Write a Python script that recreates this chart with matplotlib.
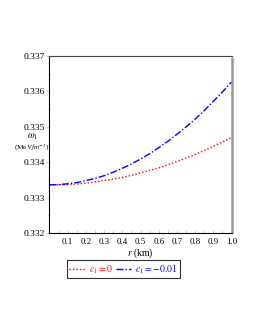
import matplotlib
matplotlib.use("Agg")
import matplotlib.pyplot as plt
from matplotlib.ticker import MultipleLocator

r_km = [0.0, 0.05, 0.1, 0.15, 0.2, 0.25, 0.3, 0.35, 0.4, 0.45, 0.5,
        0.55, 0.6, 0.65, 0.7, 0.75, 0.8, 0.85, 0.9, 0.95, 1.0]
omega_c0 = [0.33336, 0.333363, 0.33337, 0.333383, 0.33341, 0.333444, 0.33348,
            0.333524, 0.33357, 0.33363, 0.33370, 0.333766, 0.33384, 0.333926,
            0.33402, 0.334114, 0.33422, 0.33433, 0.33445, 0.334573, 0.33470]
omega_c1 = [0.33336, 0.333367, 0.33339, 0.333425, 0.33348, 0.333542, 0.33362,
            0.333716, 0.33383, 0.333949, 0.33409, 0.33424, 0.33441, 0.33459,
            0.33479, 0.334997, 0.33522, 0.33546, 0.33572, 0.335987, 0.33627]
labels = [r"$c_1=0$", r"$c_1=-0.01$"]

plt.rcParams['font.family'] = ['Liberation Serif', 'DejaVu Serif']
plt.rcParams['mathtext.fontset'] = 'stix'

fig = plt.figure(figsize=(2.55, 3.3), dpi=100)
ax = fig.add_axes([0.194, 0.294, 0.714, 0.536])

l1, = ax.plot(r_km, omega_c0, color='#ff0000', linestyle=(0, (1, 1.5)), lw=1.0)
l2, = ax.plot(r_km, omega_c1, color='#0000ff', linestyle=(0, (5, 1.5, 1, 1.5)), lw=1.0)

ax.set_xlim(0, 1.0)
ax.set_ylim(0.332, 0.337)
ax.set_xticks([0.1, 0.2, 0.3, 0.4, 0.5, 0.6, 0.7, 0.8, 0.9, 1.0])
ax.set_yticks([0.332, 0.333, 0.334, 0.335, 0.336, 0.337])
ax.yaxis.set_minor_locator(MultipleLocator(0.0005))
ax.xaxis.set_minor_locator(MultipleLocator(0.05))
ax.set_xticklabels(["0.1", "0.2", "0.3", "0.4", "0.5", "0.6", "0.7", "0.8", "0.9", "1.0"])
ax.set_yticklabels(["0.332", "0.333", "0.334", "0.335", "0.336", "0.337"])
ax.tick_params(axis='x', which='both', labelsize=6.3, length=2, width=0.5,
               color='#bbbbbb', direction='in', pad=3.5)
ax.tick_params(axis='y', which='major', labelsize=6.8, length=2, width=0.5,
               color='#bbbbbb', direction='out', pad=1)
ax.tick_params(axis='y', which='minor', length=1.5, width=0.5, color='#bbbbbb')

for s in ['left', 'bottom']:
    ax.spines[s].set_color('black')
    ax.spines[s].set_linewidth(0.8)
ax.spines['top'].set_color('#444444')
ax.spines['top'].set_linewidth(0.8)
ax.spines['right'].set_color('#999999')
ax.spines['right'].set_linewidth(1.8)
ax.spines['right'].set_capstyle('butt')
ax.spines['right'].set_bounds(0.332, 0.33697)

fig.text(33 / 255, 1 - 137 / 330, r"$\omega_1$", ha='center', va='center', fontsize=7)
fig.text(32 / 255, 1 - 148 / 330, r"(MeV$fm^{-3}$)", ha='center', va='center', fontsize=5.2)
fig.text(140 / 255, 1 - 253 / 330, r"$r$ (km)", ha='center', va='center', fontsize=7)

leg = fig.legend([l1, l2], labels, loc='center', bbox_to_anchor=(123.5 / 255, 1 - 269 / 330),
                 ncol=2, fontsize=7, frameon=True, fancybox=False, handlelength=1.6,
                 handletextpad=0.4, columnspacing=0.3, borderpad=0.25, borderaxespad=0)
leg.get_frame().set_edgecolor('black')
leg.get_frame().set_linewidth(0.8)
for t, c in zip(leg.get_texts(), ['#ff0000', '#0000ff']):
    t.set_color(c)

fig.savefig("out.png", dpi=100)
